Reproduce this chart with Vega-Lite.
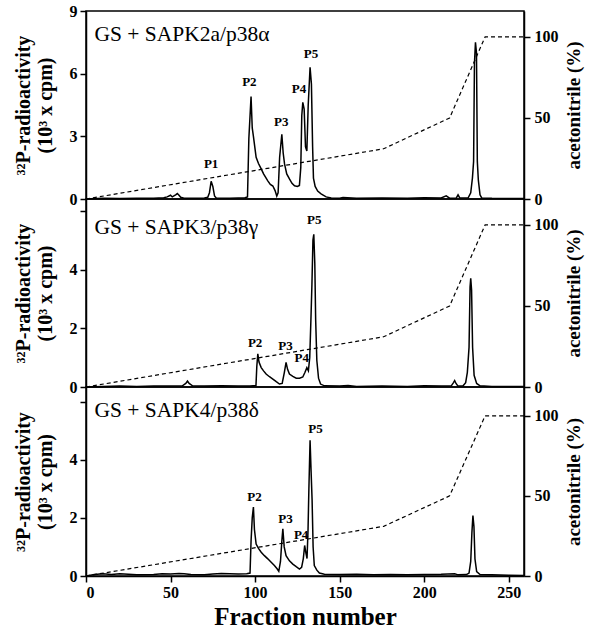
{
  "$schema": "https://vega.github.io/schema/vega-lite/v6.json",
  "background": "white",
  "padding": {"left": 12, "top": 2, "right": 3, "bottom": 5},
  "spacing": 0,
  "bounds": "flush",
  "datasets": {
    "grad": [
      {"x": 0, "a": 0}, {"x": 176, "a": 31}, {"x": 215, "a": 50}, {"x": 236, "a": 100}, {"x": 259, "a": 100}
    ],
    "p1": [
      {"x": 0, "y": 0}, {"x": 10, "y": 0.03}, {"x": 20, "y": 0.02}, {"x": 30, "y": 0.04}, {"x": 40, "y": 0.03},
      {"x": 46, "y": 0.06}, {"x": 48, "y": 0.1}, {"x": 50, "y": 0.18}, {"x": 51, "y": 0.1}, {"x": 53, "y": 0.2},
      {"x": 54, "y": 0.26}, {"x": 55, "y": 0.18}, {"x": 56, "y": 0.08}, {"x": 58, "y": 0.04}, {"x": 65, "y": 0.04},
      {"x": 70, "y": 0.05}, {"x": 72, "y": 0.08}, {"x": 73, "y": 0.3}, {"x": 74, "y": 0.85}, {"x": 75, "y": 0.6},
      {"x": 76, "y": 0.15}, {"x": 77, "y": 0.05}, {"x": 85, "y": 0.04}, {"x": 90, "y": 0.05}, {"x": 94, "y": 0.06},
      {"x": 95.5, "y": 0.1}, {"x": 96.3, "y": 2.9}, {"x": 97.6, "y": 4.9}, {"x": 98.3, "y": 3.4}, {"x": 99, "y": 3.0},
      {"x": 100.6, "y": 2.0}, {"x": 102, "y": 1.7}, {"x": 103.6, "y": 1.44}, {"x": 105, "y": 1.2}, {"x": 107.5, "y": 0.87},
      {"x": 109, "y": 0.7}, {"x": 110.5, "y": 0.62}, {"x": 111.8, "y": 0.4}, {"x": 112.8, "y": 0.14}, {"x": 113.6, "y": 0.3},
      {"x": 114.5, "y": 2.0}, {"x": 115.8, "y": 3.1}, {"x": 116.6, "y": 2.2}, {"x": 117.4, "y": 1.68}, {"x": 118.7, "y": 1.2},
      {"x": 120.3, "y": 0.96}, {"x": 121.8, "y": 0.75}, {"x": 123.3, "y": 0.63}, {"x": 125, "y": 0.6}, {"x": 126.2, "y": 0.65},
      {"x": 127, "y": 1.5}, {"x": 127.6, "y": 4.0}, {"x": 128.2, "y": 4.63}, {"x": 129, "y": 4.3}, {"x": 129.8, "y": 2.5},
      {"x": 130.6, "y": 2.3}, {"x": 131.4, "y": 4.5}, {"x": 132.5, "y": 6.31}, {"x": 133.3, "y": 5.5}, {"x": 134, "y": 2.5},
      {"x": 134.5, "y": 1.0}, {"x": 135.5, "y": 0.6}, {"x": 137, "y": 0.38}, {"x": 139, "y": 0.25}, {"x": 142, "y": 0.1},
      {"x": 145, "y": 0.05}, {"x": 150, "y": 0.04}, {"x": 152, "y": 0.07}, {"x": 160, "y": 0.04}, {"x": 175, "y": 0.05},
      {"x": 190, "y": 0.03}, {"x": 200, "y": 0.06}, {"x": 210, "y": 0.05}, {"x": 213, "y": 0.15}, {"x": 215, "y": 0.04},
      {"x": 219, "y": 0.05}, {"x": 220, "y": 0.2}, {"x": 221, "y": 0.05}, {"x": 226, "y": 0.06}, {"x": 227.5, "y": 0.3},
      {"x": 228.5, "y": 1.0}, {"x": 229.2, "y": 1.8}, {"x": 229.7, "y": 6.5}, {"x": 230.3, "y": 7.5}, {"x": 230.9, "y": 7.0},
      {"x": 231.4, "y": 1.8}, {"x": 232, "y": 0.9}, {"x": 233, "y": 0.2}, {"x": 234, "y": 0.05}, {"x": 240, "y": 0.03},
      {"x": 250, "y": 0.02}, {"x": 259, "y": 0.02}
    ],
    "p2": [
      {"x": 0, "y": 0}, {"x": 10, "y": 0.02}, {"x": 20, "y": 0.03}, {"x": 30, "y": 0.02}, {"x": 40, "y": 0.03},
      {"x": 50, "y": 0.03}, {"x": 57, "y": 0.04}, {"x": 59, "y": 0.12}, {"x": 60, "y": 0.2}, {"x": 61, "y": 0.12},
      {"x": 63, "y": 0.04}, {"x": 70, "y": 0.03}, {"x": 80, "y": 0.04}, {"x": 90, "y": 0.03}, {"x": 97, "y": 0.03},
      {"x": 100.5, "y": 0.05}, {"x": 101, "y": 0.7}, {"x": 101.6, "y": 1.13}, {"x": 102.3, "y": 0.85}, {"x": 103.6, "y": 0.66},
      {"x": 105, "y": 0.55}, {"x": 106.5, "y": 0.44}, {"x": 108.5, "y": 0.35}, {"x": 110.5, "y": 0.27}, {"x": 112.5, "y": 0.18},
      {"x": 114.4, "y": 0.1}, {"x": 116, "y": 0.12}, {"x": 117.3, "y": 0.5}, {"x": 118.3, "y": 0.84}, {"x": 119.2, "y": 0.6},
      {"x": 120.3, "y": 0.44}, {"x": 122.3, "y": 0.36}, {"x": 124.3, "y": 0.3}, {"x": 126.3, "y": 0.3}, {"x": 128.2, "y": 0.34},
      {"x": 129.5, "y": 0.5}, {"x": 130.6, "y": 0.66}, {"x": 131.5, "y": 0.55}, {"x": 132.3, "y": 1.0}, {"x": 133, "y": 2.3},
      {"x": 133.6, "y": 3.5}, {"x": 134.2, "y": 5.0}, {"x": 134.7, "y": 5.2}, {"x": 135.3, "y": 4.2}, {"x": 135.8, "y": 2.3},
      {"x": 136.5, "y": 0.9}, {"x": 137.5, "y": 0.3}, {"x": 138.7, "y": 0.1}, {"x": 141, "y": 0.04}, {"x": 150, "y": 0.03},
      {"x": 155, "y": 0.05}, {"x": 160, "y": 0.02}, {"x": 175, "y": 0.03}, {"x": 190, "y": 0.02}, {"x": 200, "y": 0.04},
      {"x": 210, "y": 0.03}, {"x": 216, "y": 0.04}, {"x": 217.3, "y": 0.15}, {"x": 218, "y": 0.22}, {"x": 218.8, "y": 0.12},
      {"x": 220, "y": 0.03}, {"x": 223, "y": 0.04}, {"x": 224.5, "y": 0.15}, {"x": 225.5, "y": 0.5}, {"x": 226.5, "y": 1.35},
      {"x": 227.1, "y": 3.4}, {"x": 227.5, "y": 3.7}, {"x": 228, "y": 3.3}, {"x": 228.6, "y": 1.35}, {"x": 229.5, "y": 0.4},
      {"x": 231, "y": 0.12}, {"x": 233, "y": 0.04}, {"x": 240, "y": 0.02}, {"x": 259, "y": 0.02}
    ],
    "p3": [
      {"x": 0, "y": 0}, {"x": 5, "y": 0.05}, {"x": 10, "y": 0.08}, {"x": 15, "y": 0.05}, {"x": 20, "y": 0.08},
      {"x": 25, "y": 0.06}, {"x": 30, "y": 0.04}, {"x": 40, "y": 0.05}, {"x": 45, "y": 0.08}, {"x": 50, "y": 0.07},
      {"x": 55, "y": 0.09}, {"x": 58, "y": 0.08}, {"x": 62, "y": 0.05}, {"x": 70, "y": 0.04}, {"x": 75, "y": 0.07},
      {"x": 80, "y": 0.09}, {"x": 85, "y": 0.08}, {"x": 90, "y": 0.07}, {"x": 95, "y": 0.08}, {"x": 97, "y": 0.1},
      {"x": 97.6, "y": 1.2}, {"x": 98.3, "y": 2.0}, {"x": 99, "y": 2.37}, {"x": 99.6, "y": 1.6}, {"x": 100.6, "y": 1.1},
      {"x": 102, "y": 0.95}, {"x": 103.6, "y": 0.82}, {"x": 105.5, "y": 0.7}, {"x": 107.5, "y": 0.59}, {"x": 109.5, "y": 0.47},
      {"x": 111.4, "y": 0.36}, {"x": 113, "y": 0.25}, {"x": 114, "y": 0.16}, {"x": 115, "y": 0.5}, {"x": 115.8, "y": 1.2},
      {"x": 116.4, "y": 1.62}, {"x": 117.2, "y": 1.0}, {"x": 118.3, "y": 0.7}, {"x": 120.3, "y": 0.52}, {"x": 122.3, "y": 0.41},
      {"x": 124.3, "y": 0.32}, {"x": 126.2, "y": 0.24}, {"x": 127.5, "y": 0.3}, {"x": 128.5, "y": 0.6}, {"x": 129.3, "y": 1.05},
      {"x": 130, "y": 0.8}, {"x": 130.7, "y": 0.6}, {"x": 131.3, "y": 1.6}, {"x": 131.8, "y": 3.0}, {"x": 132.5, "y": 4.67},
      {"x": 133.1, "y": 3.6}, {"x": 133.7, "y": 2.6}, {"x": 134.3, "y": 1.0}, {"x": 135, "y": 0.36}, {"x": 136.5, "y": 0.2},
      {"x": 138, "y": 0.1}, {"x": 141, "y": 0.06}, {"x": 150, "y": 0.05}, {"x": 160, "y": 0.06}, {"x": 170, "y": 0.04},
      {"x": 180, "y": 0.05}, {"x": 190, "y": 0.04}, {"x": 200, "y": 0.05}, {"x": 210, "y": 0.06}, {"x": 218, "y": 0.08},
      {"x": 220, "y": 0.04}, {"x": 225, "y": 0.05}, {"x": 226.5, "y": 0.1}, {"x": 227.5, "y": 0.5}, {"x": 228.2, "y": 1.5},
      {"x": 228.8, "y": 2.08}, {"x": 229.4, "y": 1.7}, {"x": 230, "y": 0.59}, {"x": 231, "y": 0.15}, {"x": 233, "y": 0.05},
      {"x": 240, "y": 0.04}, {"x": 250, "y": 0.03}, {"x": 259, "y": 0.02}
    ],
    "lab1": [
      {"x": 74, "y": 1.68, "t": "P1"}, {"x": 96.6, "y": 5.6, "t": "P2"}, {"x": 115.4, "y": 3.7, "t": "P3"},
      {"x": 125.9, "y": 5.27, "t": "P4"}, {"x": 133, "y": 6.95, "t": "P5"},
      {"x": 5, "y": 7.85, "t": "GS + SAPK2a/p38α", "k": "title"}
    ],
    "lab2": [
      {"x": 100, "y": 1.5, "t": "P2"}, {"x": 118, "y": 1.41, "t": "P3"}, {"x": 127.6, "y": 0.99, "t": "P4"},
      {"x": 135, "y": 5.67, "t": "P5"},
      {"x": 5, "y": 5.4, "t": "GS + SAPK3/p38γ", "k": "title"}
    ],
    "lab3": [
      {"x": 99.6, "y": 2.71, "t": "P2"}, {"x": 118, "y": 1.97, "t": "P3"}, {"x": 127.2, "y": 1.41, "t": "P4"},
      {"x": 135.7, "y": 5.04, "t": "P5"},
      {"x": 5, "y": 5.67, "t": "GS + SAPK4/p38δ", "k": "title"}
    ]
  },
  "vconcat": [
    {
      "width": 438, "height": 188,
      "layer": [
        {
          "layer": [
            {
              "data": {"name": "p1"},
              "mark": {"type": "line", "color": "black", "strokeWidth": 1.5},
              "encoding": {
                "x": {"field": "x", "type": "quantitative", "scale": {"domain": [0, 259], "nice": false, "zero": false}, "axis": null},
                "y": {"field": "y", "type": "quantitative", "scale": {"domain": [0, 9], "nice": false},
                  "axis": {"values": [0, 3, 6, 9], "title": ["³²P-radioactivity", "(10³ x cpm)"], "labelPadding": 3, "titlePadding": 14, "titleLineHeight": 22}}
              }
            },
            {
              "data": {"name": "lab1"},
              "transform": [{"filter": "datum.k !== 'title'"}],
              "mark": {"type": "text", "font": "Liberation Serif", "fontWeight": "bold", "fontSize": 13, "baseline": "middle", "align": "center", "color": "black"},
              "encoding": {
                "x": {"field": "x", "type": "quantitative", "scale": {"domain": [0, 259], "nice": false, "zero": false}},
                "y": {"field": "y", "type": "quantitative"},
                "text": {"field": "t"}
              }
            },
            {
              "data": {"name": "lab1"},
              "transform": [{"filter": "datum.k === 'title'"}],
              "mark": {"type": "text", "font": "Liberation Serif", "fontSize": 21.5, "baseline": "middle", "align": "left", "color": "black"},
              "encoding": {
                "x": {"field": "x", "type": "quantitative", "scale": {"domain": [0, 259], "nice": false, "zero": false}},
                "y": {"field": "y", "type": "quantitative"},
                "text": {"field": "t"}
              }
            }
          ]
        },
        {
          "data": {"name": "grad"},
          "mark": {"type": "line", "color": "black", "strokeWidth": 1.2, "strokeDash": [4, 3]},
          "encoding": {
            "x": {"field": "x", "type": "quantitative", "scale": {"domain": [0, 259], "nice": false, "zero": false}},
            "y": {"field": "a", "type": "quantitative", "scale": {"domain": [0, 116], "nice": false},
              "axis": {"orient": "right", "values": [0, 50, 100], "title": "acetonitrile (%)", "titleAngle": 270, "titleBaseline": "top", "titleFontSize": 19, "labelPadding": 4, "titlePadding": 6}}
          }
        }
      ],
      "resolve": {"scale": {"y": "independent"}}
    },
    {
      "width": 438, "height": 188,
      "layer": [
        {
          "layer": [
            {
              "data": {"name": "p2"},
              "mark": {"type": "line", "color": "black", "strokeWidth": 1.5},
              "encoding": {
                "x": {"field": "x", "type": "quantitative", "scale": {"domain": [0, 259], "nice": false, "zero": false}, "axis": null},
                "y": {"field": "y", "type": "quantitative", "scale": {"domain": [0, 6.4], "nice": false},
                  "axis": {"values": [0, 2, 4, 6], "labelExpr": "datum.value == 6 ? '' : datum.label", "title": ["³²P-radioactivity", "(10³ x cpm)"], "labelPadding": 3, "titlePadding": 14, "titleLineHeight": 22}}
              }
            },
            {
              "data": {"name": "lab2"},
              "transform": [{"filter": "datum.k !== 'title'"}],
              "mark": {"type": "text", "font": "Liberation Serif", "fontWeight": "bold", "fontSize": 13, "baseline": "middle", "align": "center", "color": "black"},
              "encoding": {
                "x": {"field": "x", "type": "quantitative", "scale": {"domain": [0, 259], "nice": false, "zero": false}},
                "y": {"field": "y", "type": "quantitative"},
                "text": {"field": "t"}
              }
            },
            {
              "data": {"name": "lab2"},
              "transform": [{"filter": "datum.k === 'title'"}],
              "mark": {"type": "text", "font": "Liberation Serif", "fontSize": 21.5, "baseline": "middle", "align": "left", "color": "black"},
              "encoding": {
                "x": {"field": "x", "type": "quantitative", "scale": {"domain": [0, 259], "nice": false, "zero": false}},
                "y": {"field": "y", "type": "quantitative"},
                "text": {"field": "t"}
              }
            }
          ]
        },
        {
          "data": {"name": "grad"},
          "mark": {"type": "line", "color": "black", "strokeWidth": 1.2, "strokeDash": [4, 3]},
          "encoding": {
            "x": {"field": "x", "type": "quantitative", "scale": {"domain": [0, 259], "nice": false, "zero": false}},
            "y": {"field": "a", "type": "quantitative", "scale": {"domain": [0, 116], "nice": false},
              "axis": {"orient": "right", "values": [0, 50, 100], "title": "acetonitrile (%)", "titleAngle": 270, "titleBaseline": "top", "titleFontSize": 19, "labelPadding": 4, "titlePadding": 6}}
          }
        }
      ],
      "resolve": {"scale": {"y": "independent"}}
    },
    {
      "width": 438, "height": 189,
      "layer": [
        {
          "layer": [
            {
              "data": {"name": "p3"},
              "mark": {"type": "line", "color": "black", "strokeWidth": 1.5},
              "encoding": {
                "x": {"field": "x", "type": "quantitative", "scale": {"domain": [0, 259], "nice": false, "zero": false},
                  "axis": {"values": [0, 50, 100, 150, 200, 250], "title": "Fraction number", "titleFontSize": 25, "labelPadding": 2, "titlePadding": 4}},
                "y": {"field": "y", "type": "quantitative", "scale": {"domain": [0, 6.5], "nice": false},
                  "axis": {"values": [0, 2, 4, 6], "labelExpr": "datum.value == 6 ? '' : datum.label", "title": ["³²P-radioactivity", "(10³ x cpm)"], "labelPadding": 3, "titlePadding": 14, "titleLineHeight": 22}}
              }
            },
            {
              "data": {"name": "lab3"},
              "transform": [{"filter": "datum.k !== 'title'"}],
              "mark": {"type": "text", "font": "Liberation Serif", "fontWeight": "bold", "fontSize": 13, "baseline": "middle", "align": "center", "color": "black"},
              "encoding": {
                "x": {"field": "x", "type": "quantitative", "scale": {"domain": [0, 259], "nice": false, "zero": false}},
                "y": {"field": "y", "type": "quantitative"},
                "text": {"field": "t"}
              }
            },
            {
              "data": {"name": "lab3"},
              "transform": [{"filter": "datum.k === 'title'"}],
              "mark": {"type": "text", "font": "Liberation Serif", "fontSize": 21.5, "baseline": "middle", "align": "left", "color": "black"},
              "encoding": {
                "x": {"field": "x", "type": "quantitative", "scale": {"domain": [0, 259], "nice": false, "zero": false}},
                "y": {"field": "y", "type": "quantitative"},
                "text": {"field": "t"}
              }
            }
          ]
        },
        {
          "data": {"name": "grad"},
          "mark": {"type": "line", "color": "black", "strokeWidth": 1.2, "strokeDash": [4, 3]},
          "encoding": {
            "x": {"field": "x", "type": "quantitative", "scale": {"domain": [0, 259], "nice": false, "zero": false}},
            "y": {"field": "a", "type": "quantitative", "scale": {"domain": [0, 118], "nice": false},
              "axis": {"orient": "right", "values": [0, 50, 100], "title": "acetonitrile (%)", "titleAngle": 270, "titleBaseline": "top", "titleFontSize": 19, "labelPadding": 4, "titlePadding": 6}}
          }
        }
      ],
      "resolve": {"scale": {"y": "independent"}}
    }
  ],
  "config": {
    "view": {"stroke": "black", "strokeWidth": 1.5},
    "axis": {
      "labelFont": "Liberation Serif", "titleFont": "Liberation Serif",
      "labelFontWeight": "bold", "titleFontWeight": "bold",
      "labelColor": "black", "titleColor": "black",
      "domainColor": "black", "tickColor": "black",
      "grid": false, "labelFontSize": 16, "titleFontSize": 20,
      "tickSize": 6, "domainWidth": 1.5, "tickWidth": 1.5
    }
  }
}
